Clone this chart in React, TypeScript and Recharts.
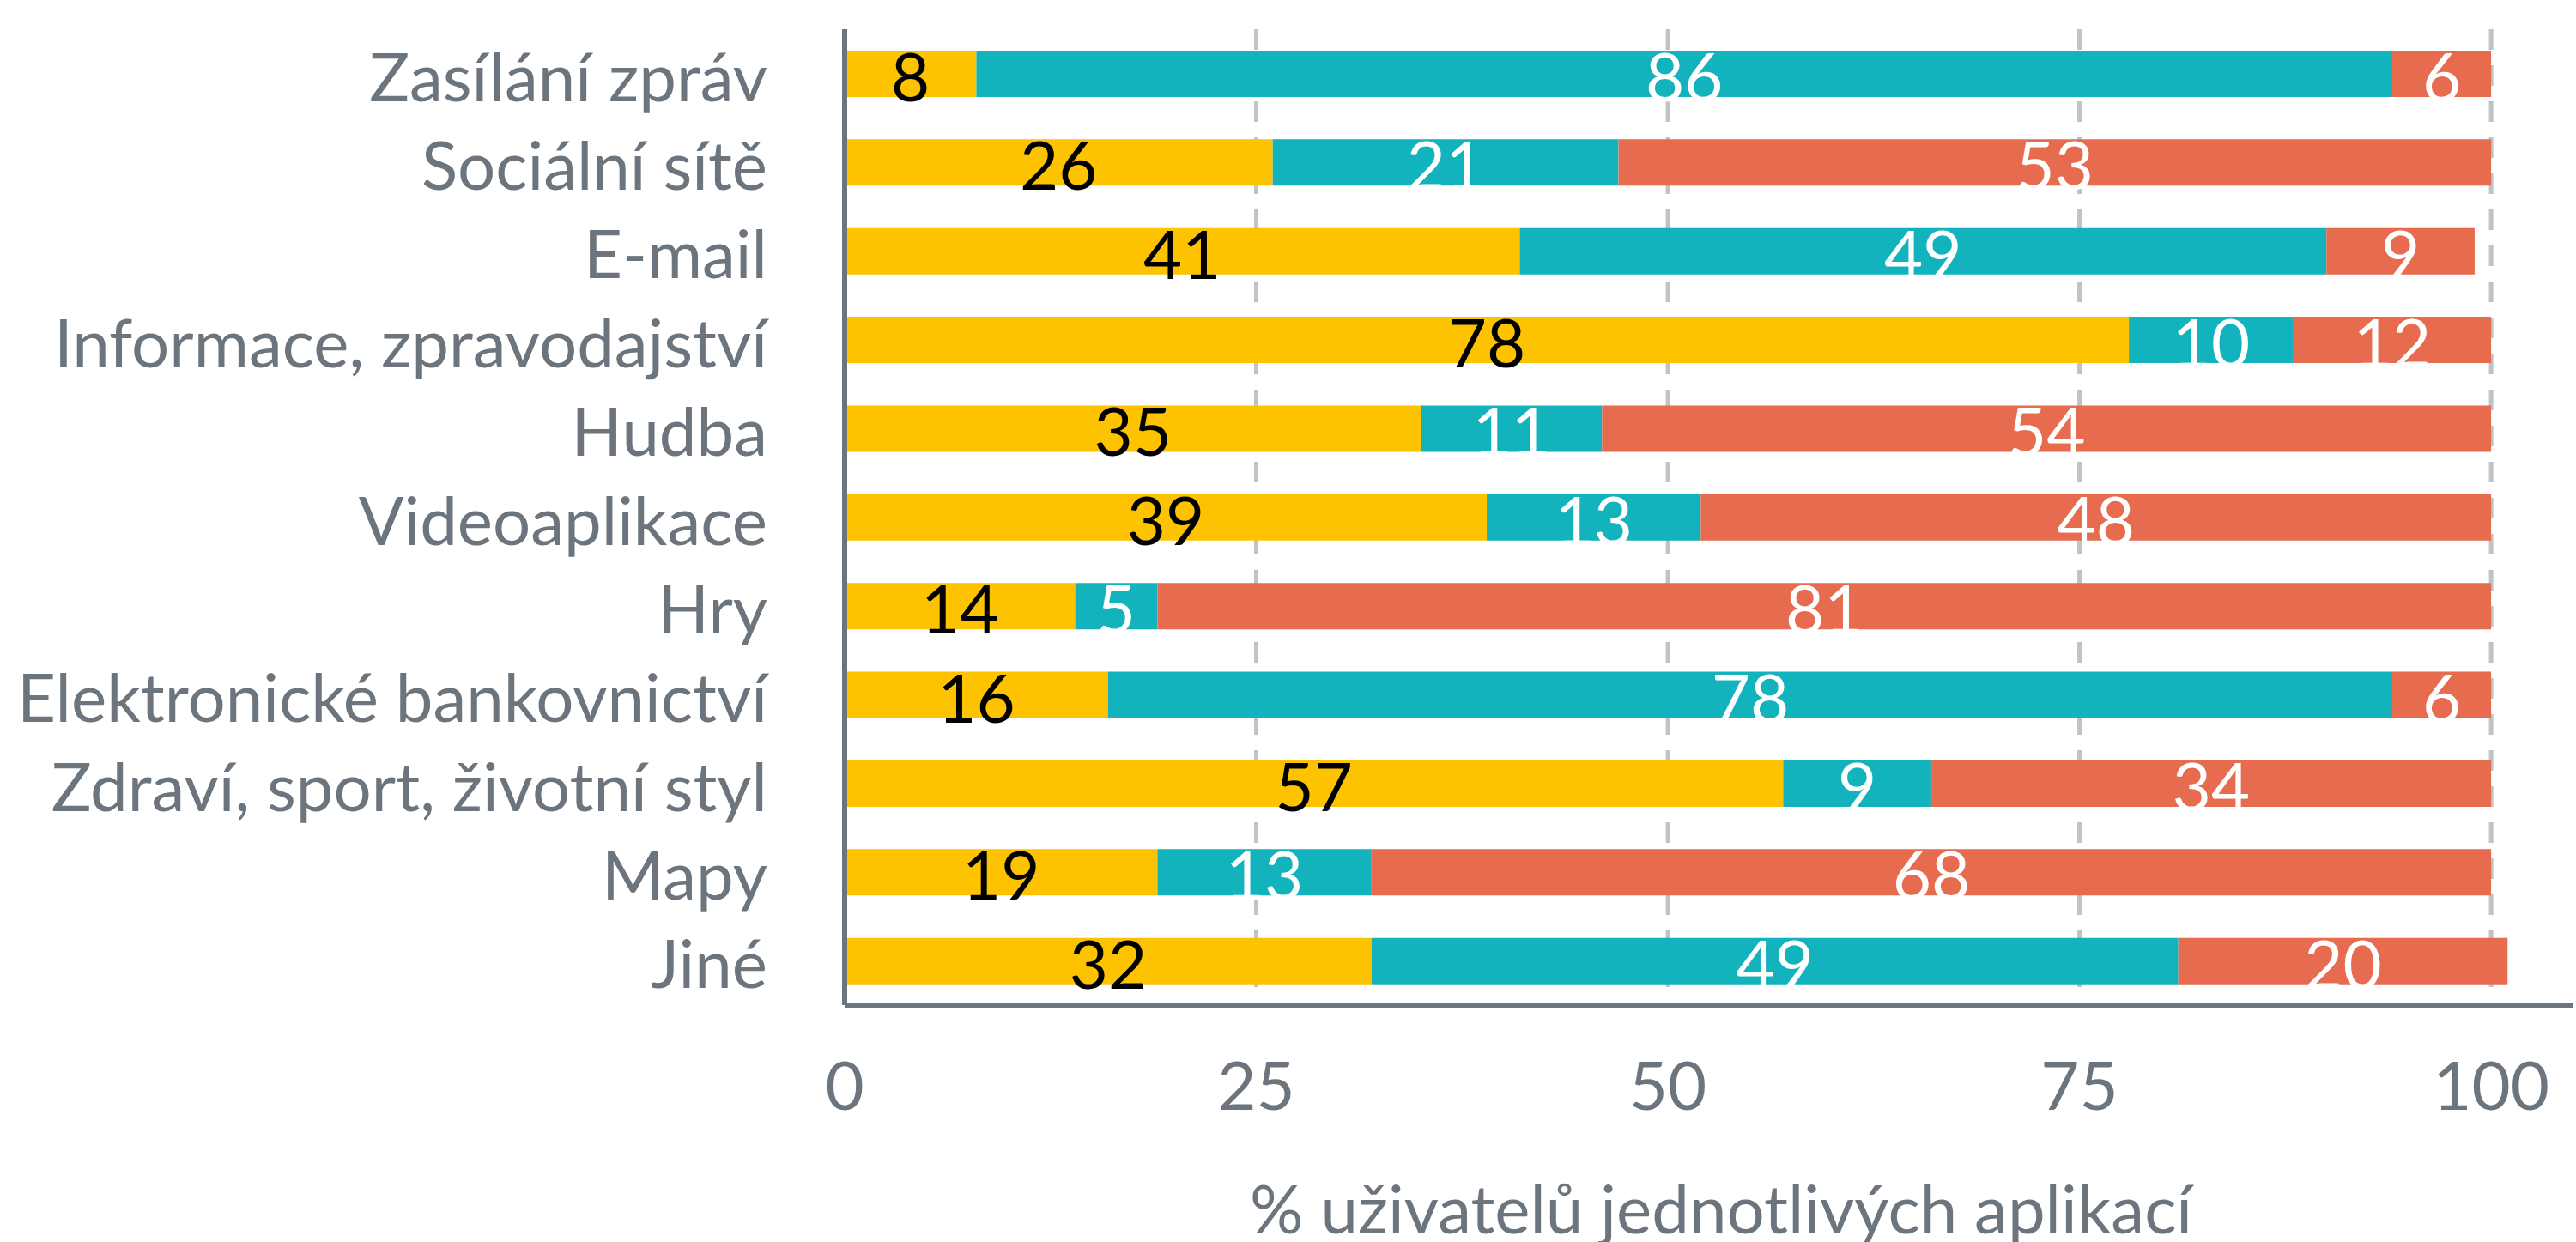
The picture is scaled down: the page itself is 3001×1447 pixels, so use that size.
import { BarChart, Bar, XAxis, YAxis, CartesianGrid, LabelList, Label } from "recharts";

const categories = [
  "Zasílání zpráv",
  "Sociální sítě",
  "E-mail",
  "Informace, zpravodajství",
  "Hudba",
  "Videoaplikace",
  "Hry",
  "Elektronické bankovnictví",
  "Zdraví, sport, životní styl",
  "Mapy",
  "Jiné",
];
const yellowValues = [8, 26, 41, 78, 35, 39, 14, 16, 57, 19, 32];
const tealValues = [86, 21, 49, 10, 11, 13, 5, 78, 9, 13, 49];
const redValues = [6, 53, 9, 12, 54, 48, 81, 6, 34, 68, 20];
const xTicks = [0, 25, 50, 75, 100];
const xDomain = [0, 105];
const axisTitle = "% uživatelů jednotlivých aplikací";

const data = categories.map((name, i) => ({
  name,
  yellow: yellowValues[i],
  teal: tealValues[i],
  red: redValues[i],
}));

const FONT = "Lato, 'Noto Sans', sans-serif";
const GREY = "#6c757d";
const FS = 78;

const CategoryTick = ({ x, y, payload }: any) => (
  <text x={x} y={y + 32} textAnchor="end" fill={GREY} fontSize={FS} fontFamily={FONT}>
    {payload.value}
  </text>
);

const ValueTick = ({ x, y, payload }: any) => (
  <text x={x} y={y + 122} textAnchor="middle" fill={GREY} fontSize={FS} fontFamily={FONT}>
    {payload.value}
  </text>
);

const segmentLabel = (color: string) => (props: any) => {
  const { x, y, width, height, value } = props;
  return (
    <text
      x={Number(x) + Number(width) / 2}
      y={Number(y) + Number(height) / 2 + 32}
      textAnchor="middle"
      fill={color}
      fontSize={FS}
      fontFamily={FONT}
    >
      {value}
    </text>
  );
};

const AxisTitle = ({ viewBox }: any) => (
  <text
    x={viewBox.x + viewBox.width / 2 + 14}
    y={viewBox.y + viewBox.height - 10}
    textAnchor="middle"
    fill={GREY}
    fontSize={FS}
    fontFamily={FONT}
  >
    {axisTitle}
  </text>
);

// grid only at the tick values (no line at the plot's right edge)
const gridX = ({ offset }: any) =>
  xTicks
    .filter((t) => t > 0)
    .map((t) => offset.left + ((t - xDomain[0]) / (xDomain[1] - xDomain[0])) * offset.width);

export default function App() {
  return (
    <div style={{ width: 3001, height: 1447, background: "#fff" }}>
      <style>{"body{margin:0}"}</style>
      <BarChart
        width={3001}
        height={1447}
        data={data}
        layout="vertical"
        margin={{ top: 34, right: 3, bottom: 0, left: 0 }}
      >
        <CartesianGrid
          horizontal={false}
          verticalCoordinatesGenerator={gridX}
          stroke="#bfc2c6"
          strokeWidth={5}
          strokeDasharray="24 18"
        />
        <XAxis
          type="number"
          domain={xDomain}
          ticks={xTicks}
          allowDataOverflow
          height={276}
          tickLine={false}
          tickSize={0}
          tickMargin={0}
          axisLine={{ stroke: GREY, strokeWidth: 6 }}
          tick={<ValueTick />}
        >
          <Label content={<AxisTitle />} />
        </XAxis>
        <YAxis
          type="category"
          dataKey="name"
          width={984}
          tickLine={false}
          tickSize={0}
          tickMargin={90}
          axisLine={{ stroke: GREY, strokeWidth: 6 }}
          tick={<CategoryTick />}
          interval={0}
        />
        <Bar dataKey="yellow" stackId="a" fill="#fec300" barSize={54} isAnimationActive={false}>
          <LabelList dataKey="yellow" content={segmentLabel("#000000")} />
        </Bar>
        <Bar dataKey="teal" stackId="a" fill="#12b3bc" barSize={54} isAnimationActive={false}>
          <LabelList dataKey="teal" content={segmentLabel("#ffffff")} />
        </Bar>
        <Bar dataKey="red" stackId="a" fill="#e66b4f" barSize={54} isAnimationActive={false}>
          <LabelList dataKey="red" content={segmentLabel("#ffffff")} />
        </Bar>
      </BarChart>
    </div>
  );
}
